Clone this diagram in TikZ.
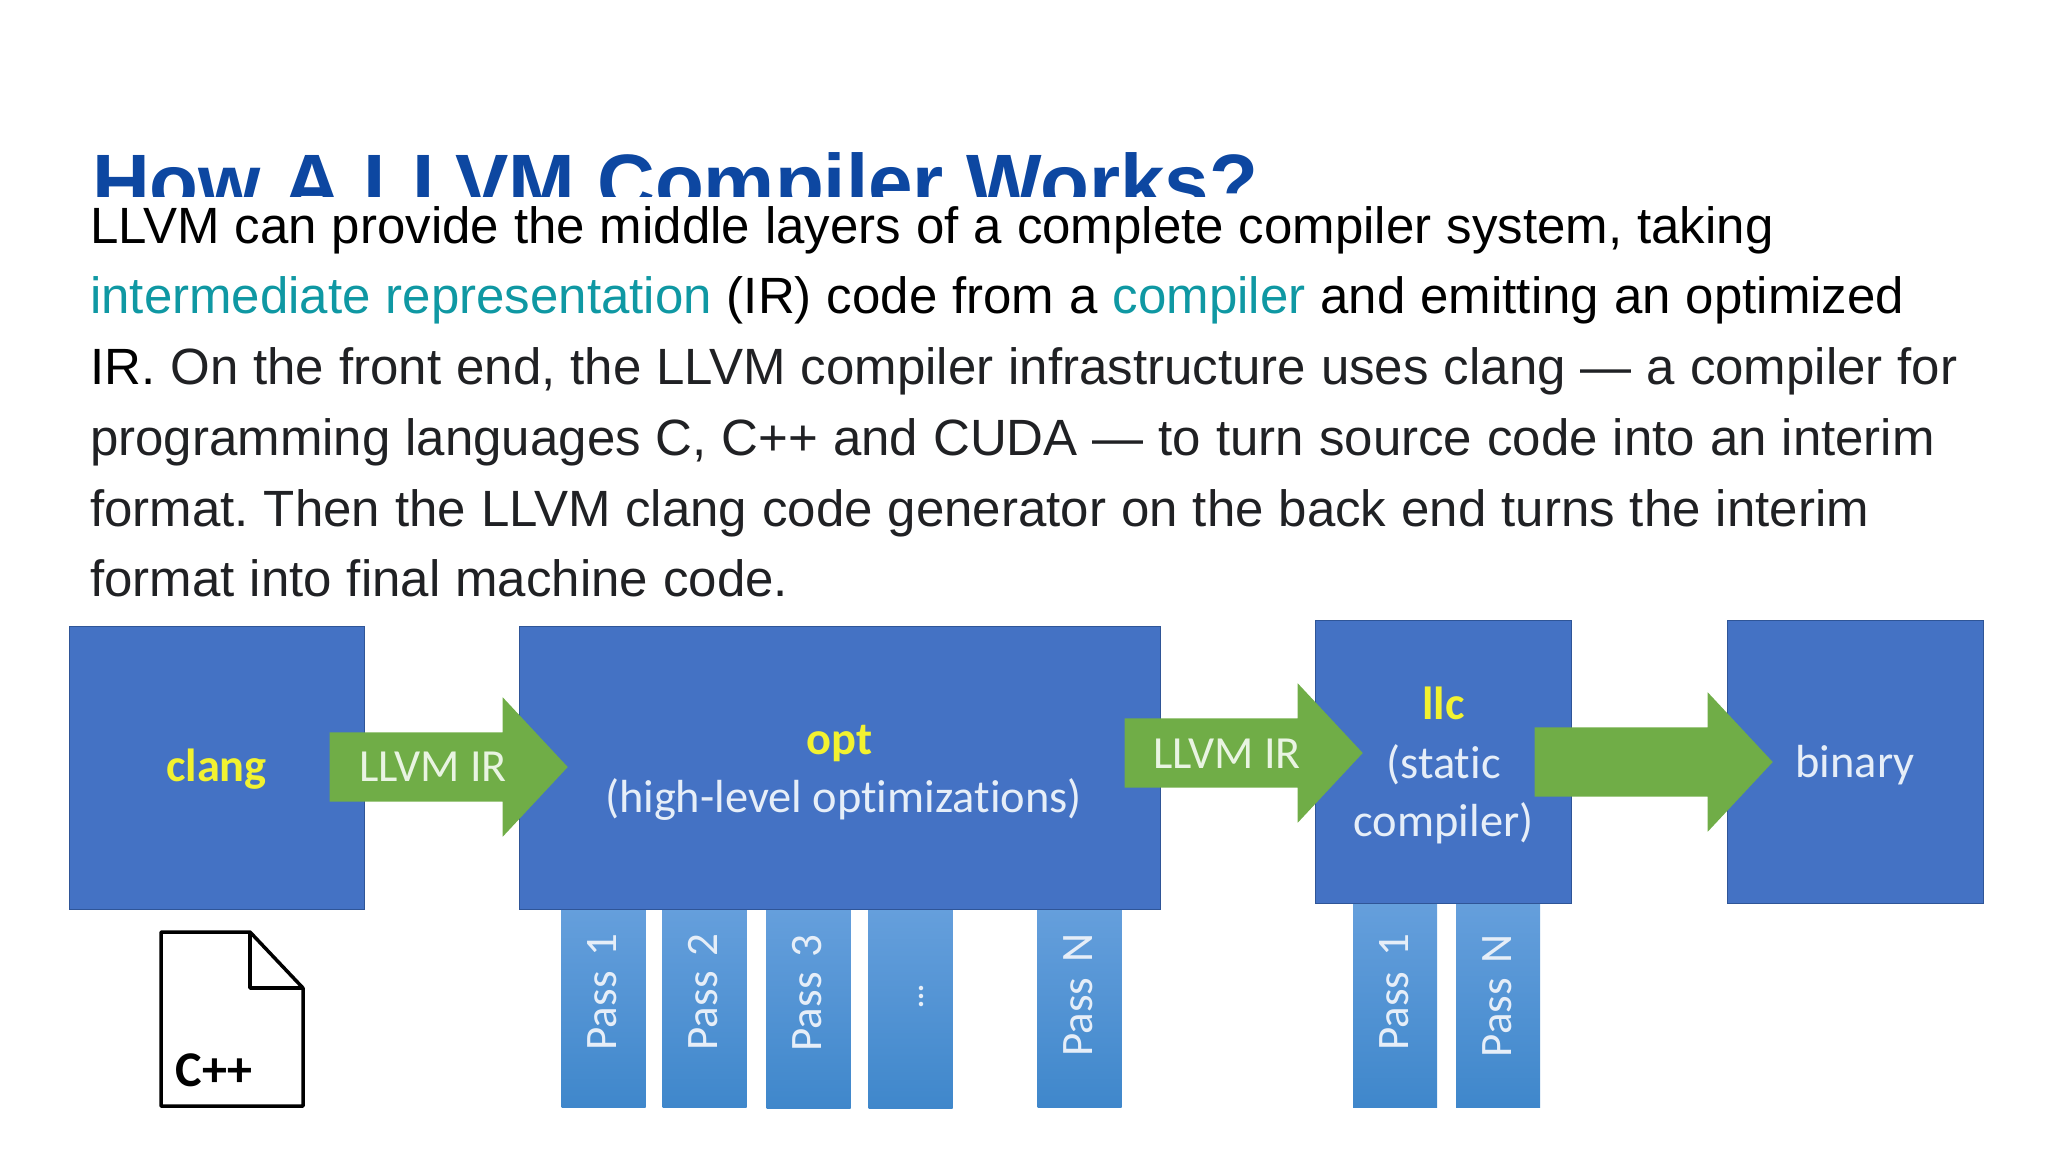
\documentclass[tikz,border=0pt]{standalone}
\usepackage{xcolor}
\usepackage{fontspec}
\setmainfont{Liberation Sans}
\newfontfamily\diagfont[Ligatures=NoCommon]{Carlito}
\usetikzlibrary{shapes.arrows}
\definecolor{titleblue}{HTML}{0D47A1}
\definecolor{linkteal}{HTML}{0F98A3}
\definecolor{bodygrey}{HTML}{202124}
\definecolor{boxblue}{HTML}{4472C4}
\definecolor{boxedge}{HTML}{2F5597}
\definecolor{passtop}{HTML}{659FDC}
\definecolor{passbottom}{HTML}{3F87CB}
\definecolor{arrowgreen}{HTML}{70AD47}
\definecolor{paleblue}{HTML}{E6EEF8}
\definecolor{palegreen}{HTML}{E9F4E2}
\definecolor{nameyellow}{HTML}{F2F230}

\begin{document}
\begin{tikzpicture}[x=1pt, y=-1pt, node distance={101pt},
        main/.style = {draw=boxedge, line width=1pt, fill=boxblue, inner sep=0pt, text=paleblue, align=center, font=\diagfont\fontsize{46.4}{58.5}\selectfont},
        passbox/.style = {rotate=90, top color=passtop, bottom color=passbottom, inner ysep=0pt, inner xsep=25pt, minimum height=84pt, text width=149pt, text height=26pt, text depth=0pt, align=right, text=paleblue, font=\diagfont\fontsize{45}{50}\selectfont},
        flow/.style = {single arrow, anchor=tip, fill=arrowgreen, inner sep=0pt, text height=69pt, text depth=0pt, single arrow head extend=35pt, single arrow tip angle=94, single arrow head indent=0pt, minimum height=238pt},
        flowlabel/.style = {inner sep=0pt, text=palegreen, font=\diagfont\fontsize{46}{50}\selectfont}]
        \useasboundingbox (0,0) rectangle (2048,1152);

        \node[anchor=base west, inner sep=0pt, text=titleblue, font=\bfseries\fontsize{80}{90}\selectfont] (title) at (92,210) {How A LLVM Compiler Works?};
        \node[anchor=north west, fill=white, inner sep=0pt, text width=1900pt, align=left, font=\frenchspacing\fontsize{51}{70.7}\selectfont] (para) at (90,197) {\spaceskip=15pt\relax\rule{0pt}{46pt}LLVM can provide the middle layers of a complete compiler system, taking\\
            \textcolor{linkteal}{intermediate representation} (IR) code from a \textcolor{linkteal}{compiler} and emitting an optimized\\
            IR. \textcolor{bodygrey}{On the front end, the LLVM compiler infrastructure uses clang — a compiler for}\\
            \textcolor{bodygrey}{programming languages C, C++ and CUDA — to turn source code into an interim}\\
            \textcolor{bodygrey}{format. Then the LLVM clang code generator on the back end turns the interim}\\
            \textcolor{bodygrey}{format into final machine code.}};

        \node[passbox] (pass1) at (603.5,1008) {Pass 1};
        \node[passbox] (pass2) [below of = pass1] {Pass 2};
        \node[passbox, xshift=-1pt] (pass3) [below of = pass2, node distance=104pt] {Pass 3};
        \node[passbox, inner xsep=75pt, text width=49pt, font=\diagfont\bfseries\fontsize{30}{32}\selectfont] (passdots) [below of = pass3, node distance=102pt] {...};
        \node[passbox, xshift=1pt] (passN) [below of = passdots, node distance=169pt] {Pass N};
        \node[passbox, inner xsep=31pt, text width=142pt] (llcpass1) at (1395,1005) {Pass 1};
        \node[passbox, inner xsep=31pt, text width=142pt] (llcpassN) [below of = llcpass1, node distance=103pt] {Pass N};

        \node[main, minimum width=295pt, minimum height=283pt] (clang) at (216.5,768) {\rule{0pt}{35pt}\textcolor{nameyellow}{\bfseries clang}};
        \node[main, minimum width=641pt, minimum height=283pt] (opt) at (839.5,768) {\rule{0pt}{39pt}\textcolor{nameyellow}{\bfseries opt}\\\hspace*{8pt}(high-level optimizations)};
        \node[main, minimum width=256pt, minimum height=283pt] (llc) at (1443.5,761.5) {\rule{0pt}{41pt}\textcolor{nameyellow}{\bfseries llc}\\(static\\compiler)};
        \node[main, minimum width=256pt, minimum height=283pt] (binary) at (1855,761.5) {\rule{0pt}{39pt}binary};

        \node[flow] (irA) at (568,767) {};
        \node[flow] (irB) at (1363,753) {};
        \node[flow] (irC) at (1773,762) {};
        \node[flowlabel] (irAlabel) at (433,767) {LLVM IR};
        \node[flowlabel] (irBlabel) at (1227,754) {LLVM IR};

        \draw[line width=3.5pt, line join=round, fill=white] (161,932) -- (250,932) -- (303,988) -- (303,1106) -- (161,1106) -- cycle;
        \draw[line width=3.5pt, line join=round] (250,932) -- (250,988) -- (303,988);
        \node[inner sep=0pt, font=\diagfont\bfseries\fontsize{50}{54}\selectfont] (cppfile) at (214,1070) {C++};
    \end{tikzpicture}
\end{document}
